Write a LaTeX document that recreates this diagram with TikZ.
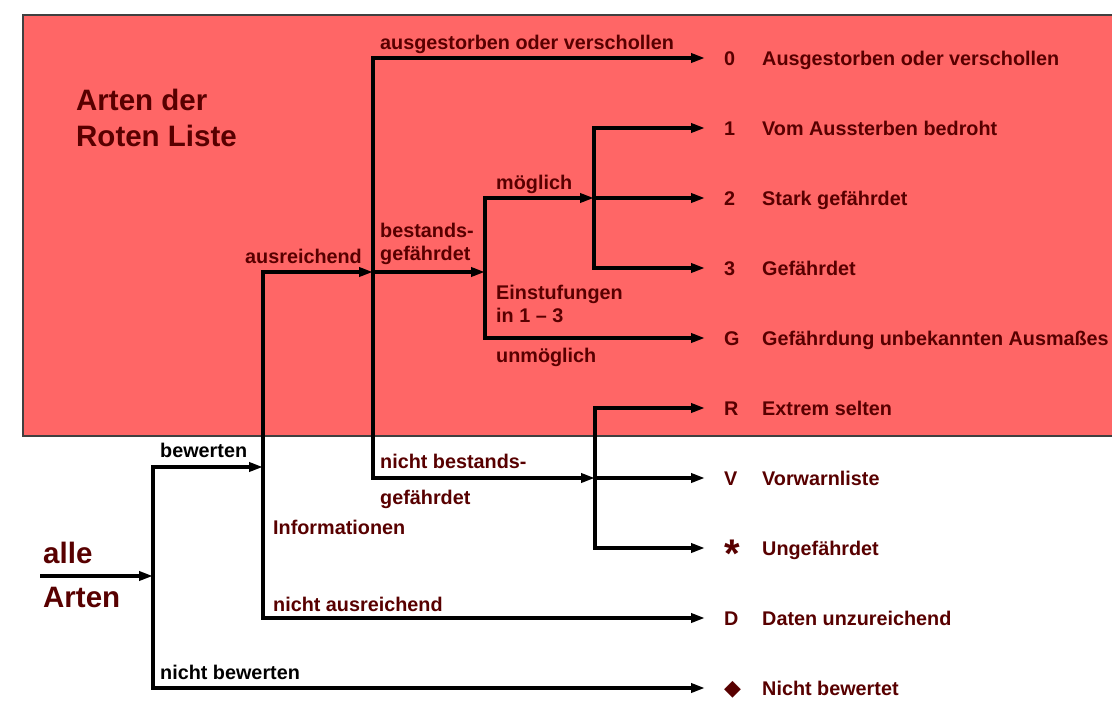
\documentclass[tikz,border=0pt]{standalone}
\usepackage{fontspec}
\setmainfont{Liberation Sans}
\newfontfamily\symfont{DejaVu Sans}
\usepackage{xcolor}
\definecolor{listred}{RGB}{255, 102, 102}
\definecolor{textred}{RGB}{88, 0, 0}
\definecolor{framegray}{RGB}{64, 64, 64}
\usetikzlibrary{arrows.meta, positioning}
\newcommand{\starsym}{\raisebox{-12.5pt}{\fontsize{40}{40}\selectfont *}}
\newcommand{\diasym}{{\symfont\fontsize{22}{22}\selectfont ◆}}

\begin{document}
\begin{tikzpicture}[x=1pt, y=-1pt,
        lbl/.style={anchor=base west, inner sep=0pt, text=textred, align=left, font=\fontsize{19.8}{23}\selectfont\bfseries},
        biglbl/.style={lbl, font=\fontsize{29.5}{36}\selectfont\bfseries},
        sym/.style={anchor=west, inner xsep=19pt, inner ysep=0pt, text height=14pt, text depth=0pt, text=textred, font=\fontsize{19.8}{23}\selectfont\bfseries},
        line/.style={draw=black, line width=3.6pt, -{Triangle[length=14pt, width=9pt]}}]

        \clip (0,0) rectangle (1112,704);
        \draw [fill=listred, draw=framegray, line width=1.2pt] (23,15) rectangle (1130,436);

        % categories of the list
        \foreach \y/\n/\s/\t in {58/k0/0/Ausgestorben oder verschollen,
                128/k1/1/Vom Aussterben bedroht,
                198/k2/2/Stark gefährdet,
                268/k3/3/Gefährdet,
                338/kG/G/Gefährdung unbekannten Ausmaßes,
                408/kR/R/Extrem selten,
                478/kV/V/Vorwarnliste,
                548/kU/\starsym/Ungefährdet,
                618/kD/D/Daten unzureichend,
                688/kN/\diasym/Nicht bewertet}
        {
            \node [sym] (\n) at (705,\y) {\s};
            \node [lbl] at (762,\y+7) {\t};
        }

        \node [biglbl] (title) at (76,146) {Arten der\\Roten Liste};
        \node [biglbl] (alle) at (43,563) {alle};
        \node [biglbl] (arten) at (43,607) {Arten};

        \node [lbl, text=black] (bew) at (160,457) {bewerten};
        \node [lbl, text=black] (nbew) at (160,679) {nicht bewerten};
        \node [lbl] (ausr) at (245,263) {ausreichend};
        \node [lbl] (info) at (273,534) {Informationen};
        \node [lbl] (nausr) at (273,611) {nicht ausreichend};
        \node [lbl] (ausg) at (380,49) {ausgestorben oder verschollen};
        \node [lbl] (best) at (380,260) {bestands-\\gefährdet};
        \node [lbl] (nbest) at (380,468) {nicht bestands-};
        \node [lbl] (nbestb) at (380,504) {gefährdet};
        \node [lbl] (moegl) at (496,189) {möglich};
        \node [lbl] (einst) at (496,322) {Einstufungen\\in 1 -- 3};
        \node [lbl] (unmoegl) at (496,362) {unmöglich};

        % branch points
        \coordinate (start) at (40,576);
        \coordinate (b1) at (153,576);
        \coordinate (b2) at (263,467);
        \coordinate (b3) at (373,272);
        \coordinate (b4) at (485,272);
        \coordinate (b5) at (594,198);
        \coordinate (b6) at (595,478);

        \path [line] (start) -- (b1);
        \path [line] (b1) |- (b2);
        \path [line] (b1) |- (kN.west);
        \path [line] (b2) |- (b3);
        \path [line] (b2) |- (kD.west);
        \path [line] (b3) |- (k0.west);
        \path [line] (b3) -- (b4);
        \path [line] (b3) |- (b6);
        \path [line] (b4) |- (b5);
        \path [line] (b4) |- (kG.west);
        \path [line] (b5) |- (k1.west);
        \path [line] (b5) -- (k2.west);
        \path [line] (b5) |- (k3.west);
        \path [line] (b6) |- (kR.west);
        \path [line] (b6) -- (kV.west);
        \path [line] (b6) |- (kU.west);
\end{tikzpicture}
\end{document}
